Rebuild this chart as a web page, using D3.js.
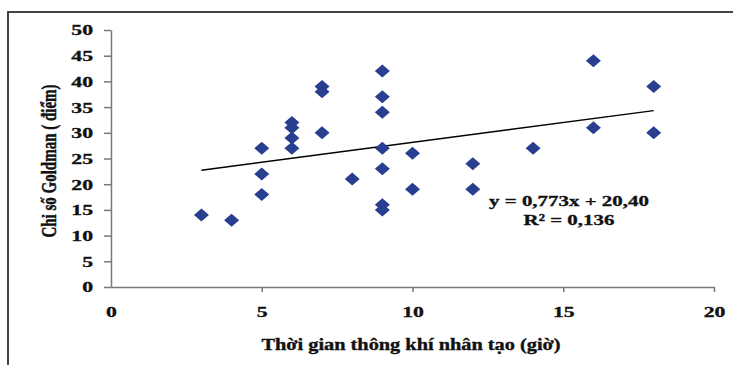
<!DOCTYPE html>
<html lang="vi">

<head>
  <meta charset="UTF-8">
  <title>Chỉ số Goldman</title>
  <script src="https://cdn.jsdelivr.net/npm/d3@7"></script>
  <style>
    body { margin: 0; background: #fff; }
    svg text { font-family: "Liberation Serif", "DejaVu Serif", serif; font-weight: bold; fill: #111; stroke: #111; stroke-width: 0.35px; }
  </style>
</head>

<body>
  <div id="app"></div>
  <script>
    // gio tho may (x) va chi so Goldman (y)
    const hours = [3, 4, 5, 5, 5, 6, 6, 6, 6, 7, 7, 7, 8, 9, 9, 9, 9, 9, 9, 9, 10, 10, 12, 12, 14, 16, 16, 18, 18];
    const scores = [14, 13, 27, 22, 18, 32, 31, 29, 27, 39, 38, 30, 21, 42, 37, 34, 27, 23, 16, 15, 26, 19, 24, 19, 27, 44, 31, 39, 30];
    const xTicks = [0, 5, 10, 15, 20];
    const yTicks = [0, 5, 10, 15, 20, 25, 30, 35, 40, 45, 50];
    const slope = 0.773;
    const intercept = 20.40;
    const eqLabel = 'y = 0,773x + 20,40';
    const r2Label = 'R² = 0,136';

    const w = 733;
    const h = 365;
    const svg = d3.select('#app')
      .append('svg')
      .attr('width', w)
      .attr('height', h);

    // chu trong anh goc bi keo gian theo chieu ngang
    function stretch(sel, k) {
      sel.each(function () {
        const len = this.getComputedTextLength();
        d3.select(this)
          .attr('textLength', len * k)
          .attr('lengthAdjust', 'spacingAndGlyphs');
      });
    }

    // khung ngoai
    svg.append('path')
      .attr('d', `M8,${h} V12 H${w}`)
      .attr('fill', 'none')
      .attr('stroke', '#444')
      .attr('stroke-width', 2);

    const x = d3.scaleLinear().domain([0, 20]).range([111, 714]);
    const y = d3.scaleLinear().domain([0, 50]).range([287, 30]);

    const xAxis = svg.append('g')
      .attr('transform', `translate(0, ${y(0)})`)
      .call(d3.axisBottom(x).tickValues(xTicks).tickSize(5).tickPadding(14).tickSizeOuter(0));
    const yAxis = svg.append('g')
      .attr('transform', `translate(${x(0)}, 0)`)
      .call(d3.axisLeft(y).tickValues(yTicks).tickSize(7).tickPadding(11).tickSizeOuter(0));

    [xAxis, yAxis].forEach(g => {
      g.select('.domain').attr('stroke', '#777').attr('stroke-width', 1.5);
      g.selectAll('.tick line').attr('stroke', '#777').attr('stroke-width', 1.5);
      g.selectAll('.tick text')
        .attr('font-family', '"Liberation Serif", serif')
        .attr('font-size', 15.5)
        .attr('font-weight', 'bold')
        .attr('fill', '#111')
        .call(stretch, 1.4);
    });
    xAxis.selectAll('.tick').filter(d => d === 0).select('line').remove();

    // duong hoi quy
    svg.append('line')
      .attr('x1', x(3)).attr('y1', y(slope * 3 + intercept))
      .attr('x2', x(18)).attr('y2', y(slope * 18 + intercept))
      .attr('stroke', '#000')
      .attr('stroke-width', 1.4);

    svg.selectAll('path.pt')
      .data(hours)
      .enter()
      .append('path')
      .attr('class', 'pt')
      .attr('d', 'M0,-6.5 L7.5,0 L0,6.5 L-7.5,0 Z')
      .attr('transform', (d, i) => `translate(${x(d)}, ${y(scores[i])})`)
      .attr('fill', '#283F90');

    svg.append('text')
      .attr('x', 569).attr('y', 206)
      .attr('text-anchor', 'middle')
      .attr('font-size', 15.5)
      .text(eqLabel)
      .call(stretch, 1.35);
    svg.append('text')
      .attr('x', 569).attr('y', 225)
      .attr('text-anchor', 'middle')
      .attr('font-size', 15.5)
      .text(r2Label)
      .call(stretch, 1.35);

    svg.append('text')
      .attr('x', 411).attr('y', 350)
      .attr('text-anchor', 'middle')
      .attr('font-size', 16)
      .text('Thời gian thông khí nhân tạo (giờ)')
      .call(stretch, 1.27);

    svg.append('text')
      .attr('transform', 'translate(56, 161) rotate(-90) scale(1, 1.35)')
      .attr('text-anchor', 'middle')
      .attr('font-size', 15)
      .text('Chỉ số Goldman ( điểm)');
  </script>
</body>

</html>
